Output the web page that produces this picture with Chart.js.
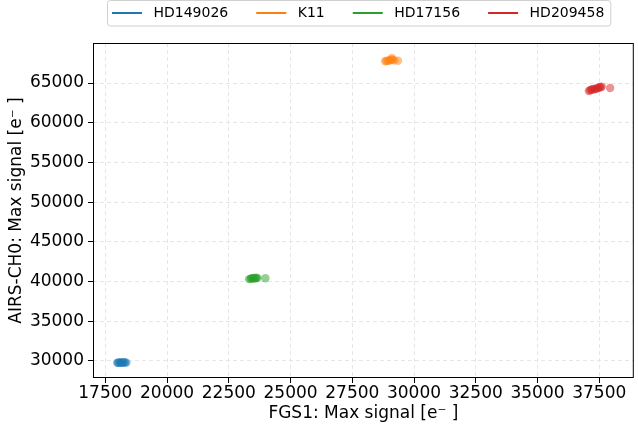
<!DOCTYPE html>
<html>
<head>
<meta charset="utf-8">
<script src="https://cdn.jsdelivr.net/npm/chart.js@4.4.0/dist/chart.umd.min.js"></script>
<style>
  html, body { margin: 0; padding: 0; background: #ffffff; }
  #wrap { width: 638px; height: 435px; }
</style>
</head>
<body>
<div id="wrap"><canvas id="c" width="638" height="435"></canvas></div>
<script>
// Targets and their colours
const targets = ['HD149026', 'K11', 'HD17156', 'HD209458'];
const colors = ['#1f77b4', '#ff7f0e', '#2ca02c', '#d62728'];

// Max signal per observation: FGS1 (x) vs AIRS-CH0 (y), electrons
const hd149026Fgs = [17980, 18020, 18060, 18100, 18130, 18170, 18210, 18250, 18300, 18350];
const hd149026Airs = [29760, 29800, 29780, 29820, 29790, 29810, 29770, 29830, 29800, 29790];

const k11Fgs = [28830, 28880, 28950, 29000, 29060, 29100, 29130, 29200, 29350];
const k11Airs = [67750, 67800, 67780, 67850, 67900, 68150, 67950, 67850, 67800];

const hd17156Fgs = [23320, 23380, 23420, 23460, 23500, 23540, 23580, 23620, 23660, 23980];
const hd17156Airs = [40300, 40350, 40400, 40380, 40450, 40420, 40400, 40480, 40430, 40420];

const hd209458Fgs = [37080, 37130, 37180, 37220, 37270, 37320, 37370, 37420, 37470, 37520, 37560, 37600, 37940];
const hd209458Airs = [64000, 64100, 64150, 64200, 64250, 64200, 64300, 64350, 64400, 64500, 64450, 64550, 64380];

// Axis ticks
const xTicks = [17500, 20000, 22500, 25000, 27500, 30000, 32500, 35000, 37500];
const yTicks = [30000, 35000, 40000, 45000, 50000, 55000, 60000, 65000];

const xTitle = 'FGS1: Max signal [e\u207B ]';
const yTitle = 'AIRS-CH0: Max signal [e\u207B ]';

const seriesX = [hd149026Fgs, k11Fgs, hd17156Fgs, hd209458Fgs];
const seriesY = [hd149026Airs, k11Airs, hd17156Airs, hd209458Airs];

function withAlpha(hex, a) {
  const n = parseInt(hex.slice(1), 16);
  return `rgba(${(n >> 16) & 255},${(n >> 8) & 255},${n & 255},${a})`;
}

const datasets = targets.map((name, i) => ({
  label: name,
  data: seriesX[i].map((x, j) => ({ x: x, y: seriesY[i][j] })),
  backgroundColor: withAlpha(colors[i], 0.5),
  borderColor: colors[i],
  borderWidth: 0,
  pointRadius: 4.2,
  pointHoverRadius: 4.2
}));

const FONT = '"DejaVu Sans", sans-serif';
const tickFont = { family: FONT, size: 17 };
const titleFont = { family: FONT, size: 17 };

// Axes frame (all four spines) drawn above the markers
const framePlugin = {
  id: 'frame',
  afterDatasetsDraw(chart) {
    const { ctx, chartArea: a } = chart;
    ctx.save();
    ctx.strokeStyle = '#000000';
    ctx.lineWidth = 1;
    ctx.strokeRect(a.left + 0.5, a.top + 0.5, a.right - a.left - 1, a.bottom - a.top - 1);
    ctx.restore();
  }
};

// Boxed legend with line samples above the axes
const legendPlugin = {
  id: 'lineLegend',
  afterDraw(chart) {
    const { ctx } = chart;
    ctx.save();
    ctx.font = '14px ' + FONT;
    const lineLen = 30, gapText = 11.5, gapItem = 28;
    const left = 107, top = 0.5, height = 25.5;
    let x = left + 5;
    const items = chart.data.datasets.map((ds, i) => {
      const w = ctx.measureText(ds.label).width;
      const it = { x: x, label: ds.label, color: colors[i], w: w };
      x += lineLen + gapText + w + gapItem;
      return it;
    });
    const last = items[items.length - 1];
    const right = last.x + lineLen + gapText + last.w + 6;
    ctx.beginPath();
    ctx.roundRect(left + 0.5, top, right - left, height, 3);
    ctx.fillStyle = 'rgba(255,255,255,0.8)';
    ctx.fill();
    ctx.strokeStyle = '#d0d0d0';
    ctx.lineWidth = 1;
    ctx.stroke();
    const yc = 13;
    items.forEach(it => {
      ctx.beginPath();
      ctx.strokeStyle = it.color;
      ctx.lineWidth = 2;
      ctx.moveTo(it.x, yc);
      ctx.lineTo(it.x + lineLen, yc);
      ctx.stroke();
      ctx.fillStyle = '#000000';
      ctx.textBaseline = 'middle';
      ctx.textAlign = 'left';
      ctx.fillText(it.label, it.x + lineLen + gapText, yc + 0.5);
    });
    ctx.restore();
  }
};

new Chart(document.getElementById('c'), {
  type: 'scatter',
  data: { datasets: datasets },
  options: {
    responsive: false,
    devicePixelRatio: 1,
    animation: false,
    layout: { padding: { top: 43, right: 1, left: 0, bottom: 0 } },
    plugins: {
      legend: { display: false },
      tooltip: { enabled: false }
    },
    scales: {
      x: {
        type: 'linear',
        min: 17000,
        max: 38900,
        afterBuildTicks: s => { s.ticks = xTicks.map(v => ({ value: v })); },
        afterFit: s => { s.height = 57; },
        ticks: {
          font: tickFont, color: '#000000', padding: 0, maxRotation: 0, autoSkip: false,
          callback: v => String(v)
        },
        grid: { color: '#e6e6e6', tickColor: '#000000', tickLength: 5, tickWidth: 1 },
        border: { display: false, dash: [4, 3] },
        title: { display: true, text: xTitle, font: titleFont, color: '#000000', padding: { top: 0, bottom: 11 } }
      },
      y: {
        type: 'linear',
        min: 27850,
        max: 70040,
        afterBuildTicks: s => { s.ticks = yTicks.map(v => ({ value: v })); },
        afterFit: s => { s.width = 93; },
        ticks: {
          font: tickFont, color: '#000000', padding: 4, autoSkip: false,
          callback: v => String(v)
        },
        grid: { color: '#e6e6e6', tickColor: '#000000', tickLength: 5, tickWidth: 1 },
        border: { display: false, dash: [4, 3] },
        title: { display: true, text: yTitle, font: titleFont, color: '#000000', padding: { top: 6, bottom: 0 } }
      }
    }
  },
  plugins: [framePlugin, legendPlugin]
});
</script>
</body>
</html>
